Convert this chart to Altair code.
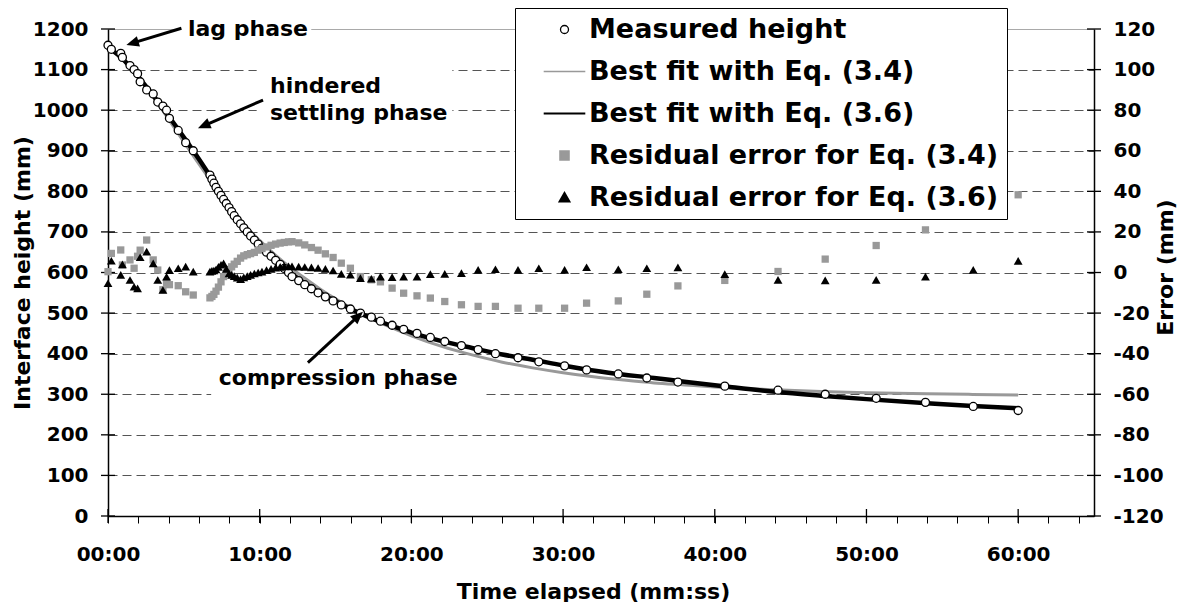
import math
import altair as alt
import pandas as pd

# ---------------- data (time in minutes, heights in mm, errors in mm) ----------------
meas_t = [0.00, 0.22, 0.84, 0.95, 1.45, 1.72, 1.95, 2.12, 2.55, 2.98, 3.28, 3.62, 3.86, 4.05, 4.63, 5.12, 5.62,
          6.72, 6.85, 6.98, 7.12, 7.28, 7.45, 7.62, 7.80, 7.98, 8.15, 8.32, 8.52, 8.74, 8.95, 9.18, 9.40, 9.65, 9.90, 10.15,
          10.45, 10.75, 11.05, 11.35, 11.62, 11.90, 12.13,
          12.57, 12.97, 13.41, 13.85, 14.33, 14.84, 15.38, 15.98, 16.64, 17.36, 17.96, 18.73, 19.49, 20.37, 21.25, 22.20,
          23.30, 24.40, 25.54, 27.03, 28.40, 30.10, 31.55, 33.64, 35.52, 37.57, 40.66, 44.17, 47.28, 50.64, 53.89, 57.04, 60.00]
meas_h = [1160, 1150, 1140, 1130, 1110, 1100, 1090, 1070, 1050, 1040, 1020, 1010, 1000, 980, 950, 920, 900,
          840, 830, 820, 810, 800, 790, 780, 770, 760, 750, 740, 730, 720, 710, 700, 690, 680, 670, 660,
          650, 640, 630, 620, 610, 600, 590,
          580, 570, 560, 550, 540, 530, 520, 510, 500, 490, 480, 470, 460, 450, 440, 430,
          420, 410, 400, 390, 380, 370, 360, 350, 340, 330, 320, 310, 300, 290, 280, 270, 260]
resid_34 = [0.4, 9.4, 11.1, 3.7, 6.2, 2.1, 8.0, 11.0, 16.0, 6.2, 1.2, -8.5, -5.0, -6.0, -6.5, -9.5, -11.1,
            -12.5, -11.8, -10.8, -9.2, -7.2, -4.6, -2.0, -0.3, 1.5, 2.8, 4.1, 5.5, 7.1, 8.2, 8.8, 9.3, 9.9, 11.0, 11.8,
            12.6, 13.4, 14.0, 14.5, 14.8, 15.1, 15.2,
            14.6, 13.6, 12.3, 11.0, 9.2, 7.4, 4.6, 2.1, -2.0, -3.6, -4.6, -7.7, -10.2, -11.5, -12.6, -14.3,
            -15.9, -16.7, -16.7, -17.6, -17.6, -17.6, -15.1, -14.0, -10.7, -6.6, -3.9, 0.5, 6.6, 13.3, 21.0, 29.6, 38.3]
resid_36 = [-5.3, 5.8, -1.2, 4.0, -3.7, -7.0, -7.8, 7.5, 10.3, 4.5, -3.7, -8.6, -2.1, 1.2, 2.1, 2.9, 0.4,
            0.4, 0.8, 1.0, 1.5, 2.8, 3.8, 4.5, 1.8, -0.5, -1.2, -1.8, -2.5, -3.3, -2.4, -1.8, -1.2, -0.5, 0.0, 0.4,
            1.2, 1.8, 2.4, 2.8, 3.0, 3.1, 3.0,
            2.9, 2.7, 2.5, 2.2, 1.8, 1.0, -0.7, -1.1, -2.8, -3.1, -2.0, -2.3, -2.0, -2.0, -0.8, -0.7,
            -0.3, 1.3, 1.6, 1.3, 2.1, 1.3, 2.6, 1.6, 2.1, 2.5, -0.8, -3.6, -3.9, -3.6, -2.0, 1.3, 5.7]

fit34_t = [0, 1, 2, 3, 4, 5, 6, 7, 8, 9, 10, 11, 12, 13, 14, 15, 16, 17, 18, 19, 20, 22, 24, 26, 28, 30, 32, 34, 36, 38, 40, 44, 47, 50, 54, 57, 60]
fit34_h = [1160, 1125, 1082, 1032, 977, 922, 867, 814, 762, 717, 679, 644, 613, 585, 559, 535, 513, 493, 475, 459, 444, 418, 397, 379, 365, 353, 343, 335, 328, 323, 318, 311, 307, 303.5, 301, 299.6, 298.3]
fit36_t = [0, 1, 2, 3, 4, 5, 6, 7, 8, 9, 10, 11, 12, 13, 14, 15, 16, 17, 18, 19, 20, 22, 24, 26, 28, 30, 33, 36, 38, 41, 44, 47, 50, 54, 57, 60]
fit36_h = [1155, 1125, 1082, 1035, 985, 933, 879, 822, 762, 711, 668, 632, 600, 573, 549, 529, 510, 493, 478, 465, 452, 431, 414, 398, 385, 371, 353, 340, 331, 318, 306, 296.5, 288, 278, 271, 265.7]

height_ticks = list(range(0, 1201, 100))
error_ticks = list(range(-120, 121, 20))
time_major = list(range(0, 61, 10))
time_minor = list(range(0, 65, 2))

legend_labels = ["Measured height", "Best fit with Eq. (3.4)", "Best fit with Eq. (3.6)",
                 "Residual error for Eq. (3.4)", "Residual error for Eq. (3.6)"]

# annotations (data coordinates)
note1_text = ["lag phase", "compression phase"]
note1_t = [5.27, 7.30]
note1_h = [1201, 339]
note2_text = ["hindered\nsettling phase"]
note2_t = [10.68]
note2_h = [1085]
box_t0 = [4.8, 9.8, 6.8]
box_t1 = [13.4, 22.7, 24.8]
box_h0 = [1167, 961, 281]
box_h1 = [1241, 1114, 379]
arrow_t0 = [4.84, 10.22, 13.18]
arrow_h0 = [1201.7, 1025, 377.7]
arrow_t1 = [1.21, 5.93, 16.81]
arrow_h1 = [1160.6, 955.3, 503.4]

# ---------------- layout / style ----------------
W, H = 986, 487
T_MAX = 65
FONT = "DejaVu Sans"
GRAY = "#999999"
PX_T = W / T_MAX
PX_H = H / 1200.0

x_scale = alt.Scale(domain=[0, T_MAX], nice=False, zero=False)
h_scale = alt.Scale(domain=[0, 1200], nice=False, zero=False)
e_scale = alt.Scale(domain=[-120, 120], nice=False, zero=False)

LINE_SYM = "M-5.2,0L5.2,0"
HEAD_SYM = "M0,0L-0.9,2.1L0.9,2.1Z"

# arrow geometry (angle of head, line shortened so it ends under the head)
ang, et, eh = [], [], []
for t0, h0, t1, h1 in zip(arrow_t0, arrow_h0, arrow_t1, arrow_h1):
    dx = (t1 - t0) * PX_T
    dy = -(h1 - h0) * PX_H
    L = math.hypot(dx, dy)
    ang.append(math.degrees(math.atan2(dx, -dy)) % 360)
    et.append(t1 - 8 * dx / L / PX_T)
    eh.append(h1 + 8 * dy / L / PX_H)

meas = pd.DataFrame({"t": meas_t, "h": meas_h, "e34": resid_34, "e36": resid_36})
fit34 = pd.DataFrame({"t": fit34_t, "h": fit34_h})
fit36 = pd.DataFrame({"t": fit36_t, "h": fit36_h})
hticks = pd.DataFrame({"v": height_ticks})
eticks = pd.DataFrame({"v": error_ticks})
tmajor = pd.DataFrame({"v": time_major})
notes1 = pd.DataFrame({"t": note1_t, "h": note1_h, "txt": note1_text})
notes2 = pd.DataFrame({"t": note2_t, "h": note2_h, "txt": note2_text})
boxes = pd.DataFrame({"t0": box_t0, "t1": box_t1, "h0": box_h0, "h1": box_h1})
arrows = pd.DataFrame({"t0": arrow_t0, "h0": arrow_h0, "t1": arrow_t1, "h1": arrow_h1,
                       "et": et, "eh": eh, "ang": ang})
leg = pd.DataFrame({"series": legend_labels})

x_axis = alt.Axis(
    values=time_minor,
    labelExpr="datum.value % 10 == 0 ? (datum.value < 10 ? '0' : '') + datum.value + ':00' : ''",
    labelOverlap=False, labelFlush=False, grid=False,
    tickSize=7, tickColor="black", tickWidth=1,
    labelPadding=21, domainColor="black", domainWidth=1.5,
    title="Time elapsed (mm:ss)", titleX=485, titleY=75, titleBaseline="middle", titleAlign="center",
)

left_axis = alt.Axis(
    orient="left", values=height_ticks, labelExpr="'' + datum.value",
    ticks=False, tickSize=0, labelPadding=20, labelFlush=False,
    grid=True,
    gridDash={"condition": {"test": "datum.value == 1200", "value": [1, 0]}, "value": [9, 5]},
    gridColor={"condition": {"test": "datum.value == 1200", "value": "#8c8c8c"}, "value": "#555555"},
    gridWidth=1, domainColor="black", domainWidth=1.5,
    title="Interface height (mm)", titleAngle=270, titleX=-86, titleY=243.5,
    titleBaseline="middle", titleAlign="center",
)

right_axis = alt.Axis(
    orient="right", values=error_ticks, labelExpr="'' + datum.value",
    ticks=False, tickSize=0, labelPadding=19, labelFlush=False, grid=False,
    domainColor="black", domainWidth=1.5,
    title="Error (mm)", titleAngle=270, titleX=71, titleY=238,
    titleBaseline="middle", titleAlign="center",
)


def xq(field="t"):
    return alt.X(f"{field}:Q", scale=x_scale, axis=x_axis)


def yh(field="h"):
    return alt.Y(f"{field}:Q", scale=h_scale, axis=left_axis)


def ye(field):
    return alt.Y(f"{field}:Q", scale=e_scale, axis=right_axis)


# ---------------- height (left axis) layers ----------------
bg_boxes = alt.Chart(boxes).mark_rect(color="white").encode(
    x=xq("t0"), x2="t1", y=yh("h0"), y2="h1")

line34 = alt.Chart(fit34).mark_line(color=GRAY, strokeWidth=3, interpolate="monotone").encode(
    x=xq(), y=yh())

line36 = alt.Chart(fit36).mark_line(color="black", strokeWidth=4.5, interpolate="monotone").encode(
    x=xq(), y=yh())

circles = alt.Chart(meas).mark_point(shape="circle", filled=True, fill="white", stroke="black",
                                     strokeWidth=1.3, size=64, opacity=1).encode(x=xq(), y=yh())

arrow_lines = alt.Chart(arrows).mark_rule(color="black", strokeWidth=3).encode(
    x=xq("t0"), y=yh("h0"), x2="et", y2="eh")

arrow_heads = alt.Chart(arrows).mark_point(shape=HEAD_SYM, filled=True, color="black", size=144,
                                           opacity=1, strokeWidth=0).encode(
    x=xq("t1"), y=yh("h1"), angle=alt.Angle("ang:Q", scale=None))

text1 = alt.Chart(notes1).mark_text(align="left", baseline="middle", font=FONT, fontWeight="bold",
                                    fontSize=22, color="black").encode(x=xq(), y=yh(), text="txt:N")

text2 = alt.Chart(notes2).mark_text(align="left", baseline="top", font=FONT, fontWeight="bold",
                                    fontSize=22, color="black", lineBreak="\n", lineHeight=27).encode(
    x=xq(), y=yh(), text="txt:N")

left_cross = alt.Chart(hticks).mark_tick(orient="horizontal", size=14, thickness=1.3, color="black",
                                         opacity=1).encode(
    y=yh("v"), x=alt.datum(0, scale=x_scale, axis=x_axis))

bottom_cross = alt.Chart(tmajor).mark_tick(orient="vertical", size=14, thickness=1.3, color="black",
                                           opacity=1).encode(
    x=xq("v"), y=alt.datum(0, scale=h_scale, axis=left_axis))

legend_layer = alt.Chart(leg).mark_point(filled=True, opacity=1).encode(
    shape=alt.Shape("series:N", title=None,
                    scale=alt.Scale(domain=legend_labels,
                                    range=["circle", LINE_SYM, LINE_SYM, "square", "triangle-up"])),
    fill=alt.Fill("series:N", title=None,
                  scale=alt.Scale(domain=legend_labels,
                                  range=["white", "transparent", "transparent", GRAY, "black"])),
    stroke=alt.Stroke("series:N", title=None,
                      scale=alt.Scale(domain=legend_labels,
                                      range=["black", GRAY, "black", GRAY, "black"])),
    strokeWidth=alt.StrokeWidth("series:N", title=None,
                                scale=alt.Scale(domain=legend_labels, range=[1.3, 3, 4.5, 0, 0])),
).transform_filter("false")

height_group = alt.layer(bg_boxes, line34, line36, circles, arrow_lines, arrow_heads,
                         text1, text2, left_cross, bottom_cross, legend_layer)

# ---------------- error (right axis) layers ----------------
squares = alt.Chart(meas).mark_point(shape="square", filled=True, color=GRAY, size=53, opacity=1,
                                     strokeWidth=0).encode(x=xq(), y=ye("e34"))

triangles = alt.Chart(meas).mark_point(shape="triangle-up", filled=True, color="black", size=78,
                                       opacity=1, strokeWidth=0).encode(x=xq(), y=ye("e36"))

right_cross = alt.Chart(eticks).mark_tick(orient="horizontal", size=14, thickness=1.3, color="black",
                                          opacity=1).encode(
    y=ye("v"), x=alt.datum(T_MAX, scale=x_scale, axis=x_axis))

error_group = alt.layer(squares, triangles, right_cross)

chart = alt.layer(height_group, error_group).resolve_scale(y="independent").properties(
    width=W, height=H,
    autosize=alt.AutoSizeParams(type="none"),
    padding={"left": 100, "top": 21, "right": 83, "bottom": 86},
).configure(font=FONT).configure_view(stroke=None).configure_axis(
    labelFont=FONT, labelFontSize=20, labelFontWeight="bold", labelColor="black",
    titleFont=FONT, titleFontSize=22, titleFontWeight="bold", titleColor="black",
).configure_legend(
    orient="none", legendX=407, legendY=-21, direction="vertical",
    fillColor="white", strokeColor="black", strokeWidth=1, cornerRadius=0,
    padding=8, rowPadding=14, symbolSize=64, symbolOffset=28, labelOffset=11,
    labelFont=FONT, labelFontSize=27, labelFontWeight="bold", labelColor="black",
    labelLimit=900, zindex=1,
)

chart.save("out.html", embed_options={"renderer": "svg", "actions": False})
